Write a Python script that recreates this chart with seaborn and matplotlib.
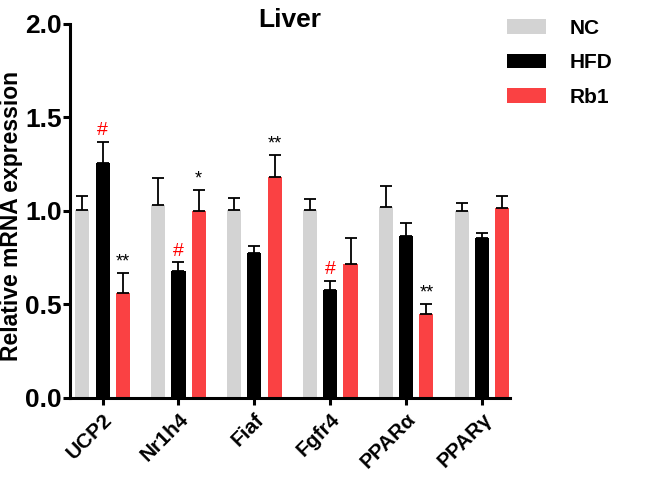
import numpy as np
import pandas as pd
import seaborn as sns
import matplotlib.pyplot as plt
from matplotlib.patches import Patch

# dados
genes = ['UCP2', 'Nr1h4', 'Fiaf', 'Fgfr4', 'PPARα', 'PPARγ']
groups = ['NC', 'HFD', 'Rb1']
nc = [1.005, 1.03, 1.005, 1.005, 1.018, 0.998]
hfd = [1.253, 0.68, 0.776, 0.578, 0.866, 0.853]
rb1 = [0.56, 1.0, 1.18, 0.717, 0.448, 1.013]
nc_err = [0.075, 0.145, 0.065, 0.06, 0.112, 0.045]
hfd_err = [0.117, 0.045, 0.034, 0.048, 0.07, 0.03]
rb1_err = [0.11, 0.11, 0.12, 0.139, 0.055, 0.067]
hfd_mark = ['#', '#', '', '#', '', '']
rb1_mark = ['**', '*', '**', '', '**', '']

colors = ['#d3d3d3', '#000000', '#fa4143']

df = pd.DataFrame({
    'gene': genes * 3,
    'group': np.repeat(groups, len(genes)),
    'value': nc + hfd + rb1,
    'err': nc_err + hfd_err + rb1_err,
    'mark': [''] * len(genes) + hfd_mark + rb1_mark,
})

plt.rcParams['font.family'] = ['Liberation Sans', 'DejaVu Sans']
plt.rcParams['font.weight'] = 'bold'

fig = plt.figure(figsize=(6.54, 4.84), dpi=100)
ax = fig.add_axes([0.107, 0.178, 0.673, 0.773])

sns.barplot(data=df, x='gene', y='value', hue='group', order=genes,
            hue_order=groups, palette=colors, width=0.8, gap=0.3,
            errorbar=None, legend=False, ax=ax, saturation=1)

# barras de erro (só para cima) e marcas de significancia
for bar, (_, row) in zip(ax.patches, df.iterrows()):
    xc = bar.get_x() + bar.get_width() / 2
    top = bar.get_height()
    ax.errorbar(xc, top, yerr=[[0], [row['err']]], fmt='none',
                ecolor='black', elinewidth=1.3, capsize=4.5, capthick=1.3)
    if row['mark']:
        col = 'red' if row['mark'] == '#' else 'black'
        ax.text(xc, top + row['err'] + 0.012, row['mark'], ha='center',
                va='bottom', color=col, fontsize=14 if row['mark'] == '#' else 13,
                fontweight='normal')

ax.set_ylim(0, 2.0)
ax.set_xlim(-0.43, 5.37)
ax.set_yticks([0, 0.5, 1.0, 1.5, 2.0])
ax.set_yticklabels(['0.0', '0.5', '1.0', '1.5', '2.0'], fontsize=19, fontweight='bold')
ax.set_xticks(range(len(genes)))
ax.set_xticklabels(genes, rotation=45, ha='right', rotation_mode='anchor',
                   fontsize=15, fontweight='bold')
ax.set_xlabel('')
ax.set_ylabel('Relative mRNA expression', fontsize=16.5, fontweight='bold')
ax.yaxis.set_label_coords(-0.133, 0.486)
ax.yaxis.label.set_va('center')
ax.text(0.5, 0.99, 'Liver', transform=ax.transAxes, ha='center', va='baseline',
        fontsize=19, fontweight='bold')

for s in ['top', 'right']:
    ax.spines[s].set_visible(False)
for s in ['left', 'bottom']:
    ax.spines[s].set_linewidth(2.2)
ax.tick_params(axis='both', width=2.2, length=5, direction='out')
ax.tick_params(axis='y', pad=1)

handles = [Patch(facecolor=c, edgecolor='none') for c in colors]
fig.legend(handles, groups, loc='upper left', bbox_to_anchor=(0.746, 1.0),
           frameon=False, prop={'size': 15, 'weight': 'bold'},
           handlelength=1.9, handleheight=0.7, labelspacing=0.75, handletextpad=1.1)

fig.savefig('out.png', dpi=100)
